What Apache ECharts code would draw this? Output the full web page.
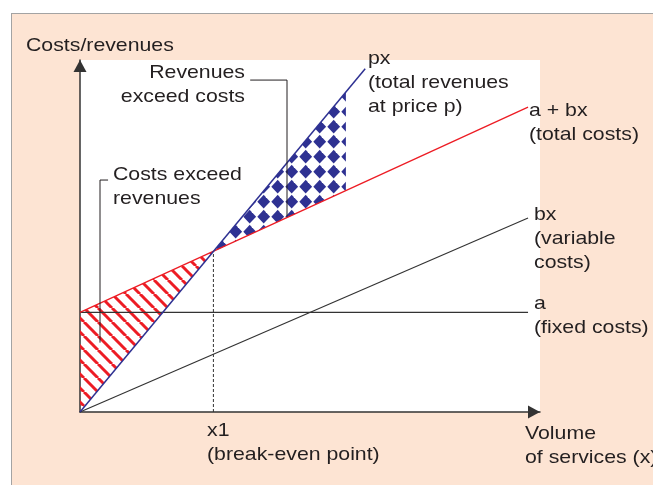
<!DOCTYPE html>
<html>
<head>
<meta charset="utf-8">
<script src="https://cdn.jsdelivr.net/npm/echarts@6/dist/echarts.min.js"></script>
<style>
  html, body { margin: 0; padding: 0; background: #ffffff; }
  #frame { position: absolute; left: 11px; top: 13px; width: 642px; height: 472px;
           background: #fde4d3; border-left: 1px solid #a3a3a3; border-top: 1px solid #a3a3a3; }
  #chart { position: absolute; left: 0; top: 0; width: 653px; height: 485px; }
</style>
</head>
<body>
<div id="frame"></div>
<div id="chart"></div>
<script>
// ---- data (axis units: volume 0..10, costs/revenues 0..10) ----
const xRange = [0, 10];
const yRange = [0, 10];
const revenueLine = [[0, 0], [6.2, 9.75]];          // px
const totalCostLine = [[0, 2.83], [9.74, 8.66]];    // a + bx
const variableCostLine = [[0, 0], [9.74, 5.51]];    // bx
const fixedCostLine = [[0, 2.83], [9.74, 2.83]];    // a
const breakEvenLine = [[2.9, 0], [2.9, 4.56]];      // x1
const lossArea = [[0, 0], [0, 2.83], [2.9, 4.56]];
const profitArea = [[2.9, 4.56], [5.78, 9.09], [5.78, 6.29]];
const revenueLeader = [[3.7, 9.43], [4.5, 9.43], [4.5, 5.55]];
const costLeader = [[0.61, 6.59], [0.435, 6.59], [0.435, 1.97]];

// ---- fill patterns ----
function stripePattern() {
  const s = 14, c = document.createElement('canvas');
  c.width = s; c.height = s;
  const g = c.getContext('2d');
  g.strokeStyle = '#ed1c24'; g.lineWidth = 3;
  for (const k of [-s, 0, s]) { g.beginPath(); g.moveTo(k, 0); g.lineTo(k + s, s); g.stroke(); }
  return { image: c, repeat: 'repeat' };
}
function diamondPattern() {
  const w = 14, h = 15, rx = 6.4, ry = 6.9, cx = 11.7, cy = 6.7;
  const c = document.createElement('canvas');
  c.width = w; c.height = h;
  const g = c.getContext('2d');
  g.fillStyle = '#2e3192';
  for (const dx of [-w, 0, w]) for (const dy of [-h, 0, h]) {
    const x = cx + dx, y = cy + dy;
    g.beginPath(); g.moveTo(x, y - ry); g.lineTo(x + rx, y); g.lineTo(x, y + ry); g.lineTo(x - rx, y); g.closePath(); g.fill();
  }
  return { image: c, repeat: 'repeat' };
}

function polySeries(points, fill) {
  return {
    type: 'custom', silent: true, z: 1,
    data: points,
    renderItem: function (params, api) {
      if (params.dataIndex !== 0) return null;
      return { type: 'polygon', shape: { points: points.map(p => api.coord(p)) }, style: { fill: fill, stroke: null } };
    }
  };
}
function lineSeries(data, color, width, type, z) {
  return { type: 'line', data: data, symbol: 'none', silent: true, z: z || 3,
           lineStyle: { color: color, width: width, type: type || 'solid' } };
}

const FONT = '19px "Liberation Sans", Arial, sans-serif';
const TXT = '#231f20';
function label(text, x, y, align) {
  return { type: 'text', x: x, y: y, scaleX: 1.12, z: 100, silent: true,
           style: { text: text, x: 0, y: 0, font: FONT, fill: TXT, lineHeight: 24,
                    align: align || 'left', textAlign: align || 'left',
                    verticalAlign: 'top', textVerticalAlign: 'top' } };
}

const axisLineStyle = { show: true, onZero: false, symbol: ['none', 'triangle'], symbolSize: [13, 12], symbolOffset: [0, -6],
                        lineStyle: { color: '#333333', width: 1.5 } };

const chart = echarts.init(document.getElementById('chart'), null, { renderer: 'canvas' });
chart.setOption({
  animation: false,
  backgroundColor: 'transparent',
  grid: { left: 80, right: 113, top: 60, bottom: 73, show: true, backgroundColor: '#ffffff', borderWidth: 0 },
  xAxis: {
    type: 'value', min: xRange[0], max: xRange[1], axisLine: axisLineStyle,
    axisTick: { show: false }, axisLabel: { show: false }, splitLine: { show: false }
  },
  yAxis: {
    type: 'value', min: yRange[0], max: yRange[1], axisLine: axisLineStyle,
    axisTick: { show: false }, axisLabel: { show: false }, splitLine: { show: false }
  },
  series: [
    polySeries(lossArea, stripePattern()),
    polySeries(profitArea, diamondPattern()),
    lineSeries(fixedCostLine, '#333333', 1.2),
    lineSeries(variableCostLine, '#333333', 1.2),
    lineSeries(breakEvenLine, '#333333', 1, [3, 2]),
    lineSeries(totalCostLine, '#ed1c24', 1.3, 'solid', 4),
    lineSeries(revenueLine, '#2e3192', 1.5, 'solid', 4),
    lineSeries(revenueLeader, '#231f20', 1, 'solid', 5),
    lineSeries(costLeader, '#231f20', 1, 'solid', 5)
  ],
  graphic: [
    label('Costs/revenues', 26, 34),
    label('Revenues\nexceed costs', 245, 61, 'right'),
    label('Costs exceed\nrevenues', 113, 163),
    label('px\n(total revenues\nat price p)', 368, 47),
    label('a + bx\n(total costs)', 529, 99),
    label('bx\n(variable\ncosts)', 534, 203),
    label('a\n(fixed costs)', 534, 292),
    label('x1\n(break-even point)', 207, 419),
    label('Volume\nof services (x)', 525, 422)
  ]
});
</script>
</body>
</html>
